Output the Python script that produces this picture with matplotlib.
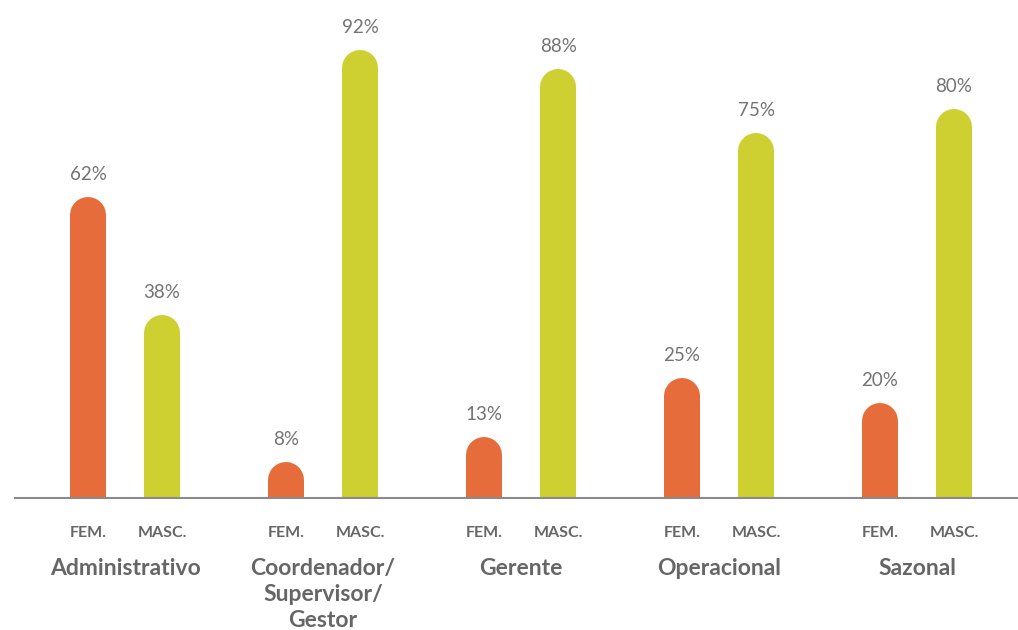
import numpy as np
import matplotlib.pyplot as plt

categories = ['Administrativo', 'Coordenador/\nSupervisor/\nGestor', 'Gerente', 'Operacional', 'Sazonal']
fem = [62, 8, 13, 25, 20]
masc = [38, 92, 88, 75, 80]
series_labels = ['FEM.', 'MASC.']

orange = '#E76C3C'
green = '#CDD030'
text_gray = '#666666'

plt.rcParams['font.family'] = ['Lato', 'DejaVu Sans']

W, H, dpi = 1018, 630, 100
fig = plt.figure(figsize=(W / dpi, H / dpi), dpi=dpi)
px_per_unit = 4.905
y_lo = 3 / px_per_unit
ax_px = (100 - y_lo) * px_per_unit
ax = fig.add_axes([15 / W, 132 / H, 1 - 15 / W, ax_px / H])
ax.set_ylim(y_lo, 100)
ax.set_xlim(-0.556, 4.51)
ax.axis('off')

bar_px = 36
r_data = (bar_px / 2) / px_per_unit   # radius of the round cap in data units
lw_pt = bar_px * 72 / dpi

x = np.arange(len(categories))
off = 0.187

for i in range(len(categories)):
    for xp, v, c in [(x[i] - off, fem[i], orange), (x[i] + off, masc[i], green)]:
        ax.plot([xp, xp], [-10, v - r_data], color=c, linewidth=lw_pt,
                solid_capstyle='round')
        ax.annotate(f'{v}%', (xp, v), xytext=(0, 14), textcoords='offset pixels',
                    ha='center', va='bottom', fontsize=13.5,
                    color='#737373')
    for xp, s in [(x[i] - off, series_labels[0]), (x[i] + off, series_labels[1])]:
        ax.annotate(s, (xp, y_lo), xytext=(0, -35), textcoords='offset pixels',
                    ha='center', va='center', fontsize=11.5, fontweight='bold',
                    color=text_gray, annotation_clip=False)
    ax.annotate(categories[i], (x[i], y_lo), xytext=(0, -60), textcoords='offset pixels',
                ha='center', va='top', fontsize=16.5, fontweight='bold',
                color=text_gray, linespacing=1.3, annotation_clip=False)

ax.axhline(y_lo, color='#8a8a8a', linewidth=1.5, clip_on=False)

fig.savefig('out.png', dpi=dpi)
